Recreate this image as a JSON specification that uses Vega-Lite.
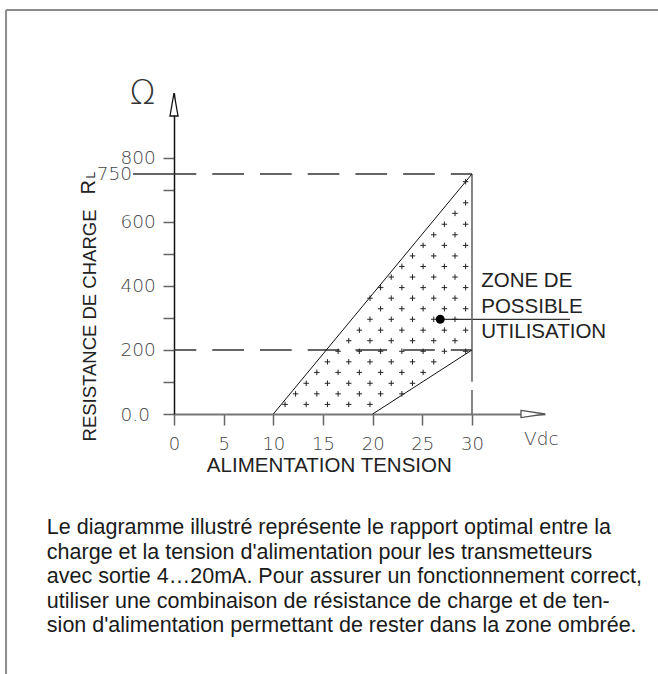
{
  "$schema": "https://vega.github.io/schema/vega-lite/v6.json",
  "width": 371,
  "height": 321,
  "autosize": {"type": "none"},
  "padding": {"left": 174, "top": 93, "right": 113, "bottom": 260},
  "background": "white",
  "config": {"view": {"stroke": null}},
  "datasets": {
    "frame": [
      {"x": -16.91, "y": 1262.5, "x2": 50, "y2": 1262.5},
      {"x": -16.91, "y": 1262.5, "x2": -16.91, "y2": -830}
    ],
    "dashed": [
      {"x": 0, "x2": 30, "y": 750},
      {"x": 0, "x2": 30, "y": 200}
    ],
    "diagonals": [
      {"x": 10, "y": 0, "x2": 30, "y2": 750},
      {"x": 20, "y": 0, "x2": 30, "y2": 200}
    ],
    "leaders": [
      {"x": -4.13, "y": 750, "x2": 0, "y2": 750},
      {"x": 26.8, "y": 296, "x2": 39.87, "y2": 296}
    ],
    "vertical": [
      {"x": 30, "y": 101, "x2": 30, "y2": 750},
      {"x": 30, "y": 0, "x2": 30, "y2": 75}
    ],
    "plus": [
      {"x": 11.18, "y": 30}, {"x": 13.31, "y": 30}, {"x": 15.45, "y": 30}, {"x": 17.59, "y": 30}, {"x": 19.73, "y": 30},
      {"x": 12.24, "y": 63}, {"x": 14.38, "y": 63}, {"x": 16.52, "y": 63}, {"x": 18.66, "y": 63}, {"x": 20.8, "y": 63}, {"x": 22.94, "y": 63},
      {"x": 13.31, "y": 96}, {"x": 15.45, "y": 96}, {"x": 17.59, "y": 96}, {"x": 19.73, "y": 96}, {"x": 21.87, "y": 96}, {"x": 24.01, "y": 96},
      {"x": 14.38, "y": 130}, {"x": 16.52, "y": 130}, {"x": 18.66, "y": 130}, {"x": 20.8, "y": 130}, {"x": 22.94, "y": 130}, {"x": 25.08, "y": 130},
      {"x": 15.45, "y": 163}, {"x": 17.59, "y": 163}, {"x": 19.73, "y": 163}, {"x": 21.87, "y": 163}, {"x": 24.01, "y": 163}, {"x": 26.15, "y": 163},
      {"x": 16.52, "y": 196}, {"x": 18.66, "y": 196}, {"x": 20.8, "y": 196}, {"x": 22.94, "y": 196}, {"x": 25.08, "y": 196}, {"x": 27.22, "y": 196}, {"x": 29.36, "y": 196},
      {"x": 17.59, "y": 229}, {"x": 19.73, "y": 229}, {"x": 21.87, "y": 229}, {"x": 24.01, "y": 229}, {"x": 26.15, "y": 229}, {"x": 28.29, "y": 229},
      {"x": 18.66, "y": 262}, {"x": 20.8, "y": 262}, {"x": 22.94, "y": 262}, {"x": 25.08, "y": 262}, {"x": 27.22, "y": 262}, {"x": 29.36, "y": 262},
      {"x": 19.73, "y": 296}, {"x": 21.87, "y": 296}, {"x": 24.01, "y": 296}, {"x": 26.15, "y": 296}, {"x": 28.29, "y": 296},
      {"x": 20.8, "y": 329}, {"x": 22.94, "y": 329}, {"x": 25.08, "y": 329}, {"x": 27.22, "y": 329}, {"x": 29.36, "y": 329},
      {"x": 19.73, "y": 362}, {"x": 21.87, "y": 362}, {"x": 24.01, "y": 362}, {"x": 26.15, "y": 362}, {"x": 28.29, "y": 362},
      {"x": 20.8, "y": 395}, {"x": 22.94, "y": 395}, {"x": 25.08, "y": 395}, {"x": 27.22, "y": 395}, {"x": 29.36, "y": 395},
      {"x": 21.87, "y": 428}, {"x": 24.01, "y": 428}, {"x": 26.15, "y": 428}, {"x": 28.29, "y": 428},
      {"x": 22.94, "y": 461}, {"x": 25.08, "y": 461}, {"x": 27.22, "y": 461}, {"x": 29.36, "y": 461},
      {"x": 24.01, "y": 494}, {"x": 26.15, "y": 494}, {"x": 28.29, "y": 494},
      {"x": 25.08, "y": 527}, {"x": 27.22, "y": 527}, {"x": 29.36, "y": 527},
      {"x": 26.15, "y": 560}, {"x": 28.29, "y": 560},
      {"x": 27.22, "y": 593}, {"x": 29.36, "y": 593},
      {"x": 28.29, "y": 627},
      {"x": 29.36, "y": 660},
      {"x": 29.36, "y": 726}
    ],
    "dot": [{"x": 26.8, "y": 296}],
    "arrowRight": [{"x": 36.14, "y": 0}],
    "arrowUp": [{"x": 0, "y": 967.2}],
    "paragraph": [
      {"x": -12.8, "y": -375, "text": "Le diagramme illustré représente le rapport optimal entre la"},
      {"x": -12.8, "y": -451.6, "text": "charge et la tension d'alimentation pour les transmetteurs"},
      {"x": -12.8, "y": -528.1, "text": "avec sortie 4…20mA. Pour assurer un fonctionnement correct,"},
      {"x": -12.8, "y": -604.7, "text": "utiliser  une combinaison de résistance de charge et de ten-"},
      {"x": -12.8, "y": -681.3, "text": "sion d'alimentation permettant de rester dans la zone ombrée."}
    ],
    "zone": [
      {"x": 30.93, "y": 397.8, "text": "ZONE DE"},
      {"x": 30.93, "y": 314.7, "text": "POSSIBLE"},
      {"x": 30.93, "y": 236.6, "text": "UTILISATION"}
    ],
    "label750": [{"x": -4.23, "y": 750, "text": "750"}],
    "vdc": [{"x": 35.24, "y": -96.9, "text": "Vdc"}],
    "omega": [{"x": -3.17, "y": 1000, "text": "Ω"}],
    "rletter": [{"x": -7.95, "y": 685.6, "text": "R"}],
    "lletter": [{"x": -7.95, "y": 736, "text": "L"}]
  },
  "encoding": {
    "x": {
      "field": "x",
      "type": "quantitative",
      "scale": {"domain": [0, 37.35], "nice": false, "zero": false},
      "axis": {
        "values": [0, 5, 10, 15, 20, 25, 30],
        "grid": false,
        "tickSize": 11,
        "tickColor": "#666",
        "tickWidth": 1.5,
        "domainColor": "#777",
        "domainWidth": 2,
        "labelFont": "DejaVu Sans",
        "labelFontWeight": 200,
        "labelFontSize": 18,
        "labelColor": "#444",
        "labelPadding": 24,
        "labelBaseline": "alphabetic",
        "labelFlush": false,
        "labelOverlap": false,
        "title": "ALIMENTATION TENSION",
        "titleFont": "Liberation Sans",
        "titleFontSize": 20.5,
        "titleFontWeight": "normal",
        "titleColor": "#222",
        "titleX": 154.8,
        "titleY": 57.5,
        "titleAlign": "center",
        "titleBaseline": "alphabetic"
      }
    },
    "y": {
      "field": "y",
      "type": "quantitative",
      "scale": {"domain": [0, 1003.1], "nice": false, "zero": false},
      "axis": {
        "values": [0, 100, 200, 300, 400, 500, 600, 700, 800],
        "grid": false,
        "tickSize": 11,
        "tickColor": "#666",
        "tickWidth": 1.5,
        "domainColor": "#111",
        "domainWidth": 1.5,
        "labelExpr": "datum.value == 0 ? '0.0' : (datum.value % 200 == 0 ? datum.label : '')",
        "labelFont": "DejaVu Sans",
        "labelFontWeight": 200,
        "labelFontSize": 18.5,
        "labelColor": "#444",
        "labelAlign": "left",
        "labelBaseline": "middle",
        "labelPadding": 43,
        "labelFlush": false,
        "labelOverlap": false,
        "title": "RESISTANCE DE CHARGE",
        "titleFont": "Liberation Sans",
        "titleFontSize": 18.5,
        "titleFontWeight": "normal",
        "titleColor": "#222",
        "titleAngle": 270,
        "titleX": -79,
        "titleY": 232,
        "titleAlign": "center",
        "titleBaseline": "alphabetic"
      }
    }
  },
  "layer": [
    {
      "data": {"name": "frame"},
      "mark": {"type": "rule", "color": "#8c8c8c", "strokeWidth": 2},
      "encoding": {"x2": {"field": "x2"}, "y2": {"field": "y2"}}
    },
    {
      "data": {"name": "dashed"},
      "mark": {"type": "rule", "color": "#333", "strokeWidth": 1.3, "strokeDash": [31.7, 16], "strokeDashOffset": 9.4},
      "encoding": {"x2": {"field": "x2"}}
    },
    {
      "data": {"name": "leaders"},
      "mark": {"type": "rule", "color": "#333", "strokeWidth": 1.3},
      "encoding": {"x2": {"field": "x2"}, "y2": {"field": "y2"}}
    },
    {
      "data": {"name": "vertical"},
      "mark": {"type": "rule", "color": "#666", "strokeWidth": 1.6},
      "encoding": {"x2": {"field": "x2"}, "y2": {"field": "y2"}}
    },
    {
      "data": {"name": "diagonals"},
      "mark": {"type": "rule", "color": "#111", "strokeWidth": 1},
      "encoding": {"x2": {"field": "x2"}, "y2": {"field": "y2"}}
    },
    {
      "data": {"name": "plus"},
      "mark": {"type": "point", "shape": "M-1,0L1,0M0,-1L0,1", "size": 30, "filled": false, "color": "#222", "strokeWidth": 1, "opacity": 1}
    },
    {
      "data": {"name": "dot"},
      "mark": {"type": "point", "shape": "circle", "size": 80, "filled": true, "color": "#000", "opacity": 1}
    },
    {
      "data": {"name": "arrowRight"},
      "mark": {"type": "point", "shape": "M-1,-0.3L1,0L-1,0.3Z", "size": 576, "filled": true, "fill": "white", "stroke": "#555", "strokeWidth": 1.3, "opacity": 1}
    },
    {
      "data": {"name": "arrowUp"},
      "mark": {"type": "point", "shape": "M-0.35,1L0,-1L0.35,1Z", "size": 529, "filled": true, "fill": "white", "stroke": "#111", "strokeWidth": 1.3, "opacity": 1}
    },
    {
      "data": {"name": "paragraph"},
      "mark": {"type": "text", "font": "Liberation Sans", "fontSize": 21.5, "align": "left", "baseline": "alphabetic", "color": "#1a1a1a"},
      "encoding": {"text": {"field": "text"}}
    },
    {
      "data": {"name": "zone"},
      "mark": {"type": "text", "font": "Liberation Sans", "fontSize": 20.5, "align": "left", "baseline": "alphabetic", "color": "#222"},
      "encoding": {"text": {"field": "text"}}
    },
    {
      "data": {"name": "label750"},
      "mark": {"type": "text", "font": "DejaVu Sans", "fontWeight": 200, "fontSize": 18.5, "align": "right", "baseline": "middle", "color": "#444"},
      "encoding": {"text": {"field": "text"}}
    },
    {
      "data": {"name": "vdc"},
      "mark": {"type": "text", "font": "DejaVu Sans", "fontWeight": 200, "fontSize": 18.5, "align": "left", "baseline": "alphabetic", "color": "#444"},
      "encoding": {"text": {"field": "text"}}
    },
    {
      "data": {"name": "omega"},
      "mark": {"type": "text", "font": "DejaVu Sans", "fontWeight": 200, "fontSize": 34, "align": "center", "baseline": "middle", "color": "#333"},
      "encoding": {"text": {"field": "text"}}
    },
    {
      "data": {"name": "rletter"},
      "mark": {"type": "text", "font": "Liberation Sans", "fontSize": 20, "angle": 270, "align": "left", "baseline": "alphabetic", "color": "#222"},
      "encoding": {"text": {"field": "text"}}
    },
    {
      "data": {"name": "lletter"},
      "mark": {"type": "text", "font": "Liberation Sans", "fontSize": 12, "angle": 270, "align": "left", "baseline": "alphabetic", "color": "#222"},
      "encoding": {"text": {"field": "text"}}
    }
  ]
}
